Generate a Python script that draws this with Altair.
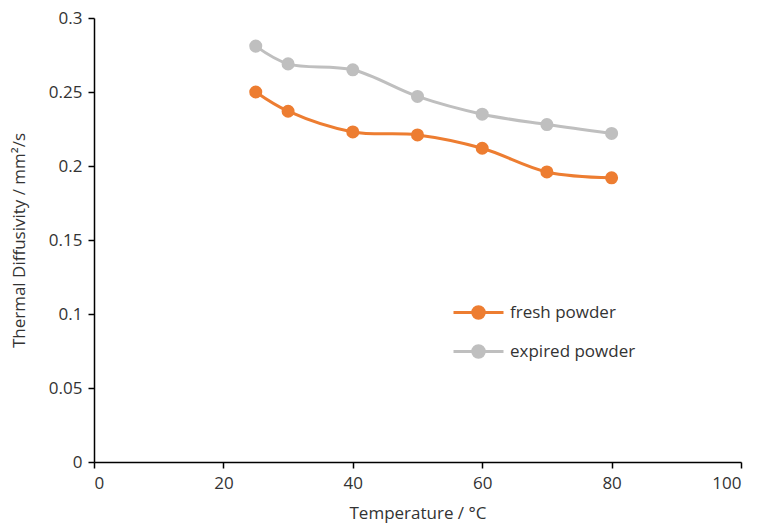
import altair as alt
import pandas as pd

temps = [25, 30, 40, 50, 60, 70, 80]
fresh = [0.250, 0.237, 0.223, 0.221, 0.212, 0.196, 0.192]
expired = [0.281, 0.269, 0.265, 0.247, 0.235, 0.228, 0.222]
series = ["fresh powder", "expired powder"]
colors = ["#ED7D31", "#BFBFBF"]

rows = []
for t, v in zip(temps, fresh):
    rows.append({"T": t, "D": v, "s": series[0]})
for t, v in zip(temps, expired):
    rows.append({"T": t, "D": v, "s": series[1]})
df = pd.DataFrame(rows)

FONT = "Open Sans"
color = alt.Color(
    "s:N",
    scale=alt.Scale(domain=series, range=colors),
    legend=alt.Legend(
        title=None,
        orient="none",
        legendX=358,
        legendY=268,
        symbolType="M-1,0H1M-0.23,0A0.23,0.23 0 1,0 0.23,0A0.23,0.23 0 1,0 -0.23,0",
        symbolSize=2500,
        symbolStrokeWidth=3,
        labelFont=FONT,
        labelFontSize=17,
        labelColor="#333333",
        labelOffset=5,
        rowPadding=-2,
        padding=0,
    ),
)

x = alt.X("T:Q", scale=alt.Scale(domain=[0, 100]),
          axis=alt.Axis(values=[0, 20, 40, 60, 80, 100], title="Temperature / °C",
                        labelPadding=7, titlePadding=14))
y = alt.Y("D:Q", scale=alt.Scale(domain=[0, 0.3]),
          axis=alt.Axis(values=[0, 0.05, 0.1, 0.15, 0.2, 0.25, 0.3], format="~g",
                        title="Thermal Diffusivity / mm²/s", labelPadding=6,
                        titlePadding=20))

lines = alt.Chart(df).mark_line(interpolate="catmull-rom", strokeWidth=3).encode(
    x=x, y=y, color=color)
points = alt.Chart(df).mark_point(filled=True, size=170, opacity=1, shape="circle").encode(
    x=x, y=y, color=color)

chart = alt.layer(lines, points).properties(
    width=647, height=444,
    autosize=alt.AutoSizeParams(type="none"),
    padding={"left": 94, "top": 18, "right": 20, "bottom": 66},
).configure_view(stroke=None).configure_axis(
    grid=False,
    domainColor="#000000",
    domainWidth=1.5,
    tickColor="#000000",
    tickWidth=1.5,
    tickSize=6,
    labelFont=FONT,
    labelFontSize=17,
    labelColor="#333333",
    titleFont=FONT,
    titleFontSize=17,
    titleFontWeight="normal",
    titleColor="#333333",
)

chart.save("out.html", embed_options={"renderer": "svg", "actions": False})
